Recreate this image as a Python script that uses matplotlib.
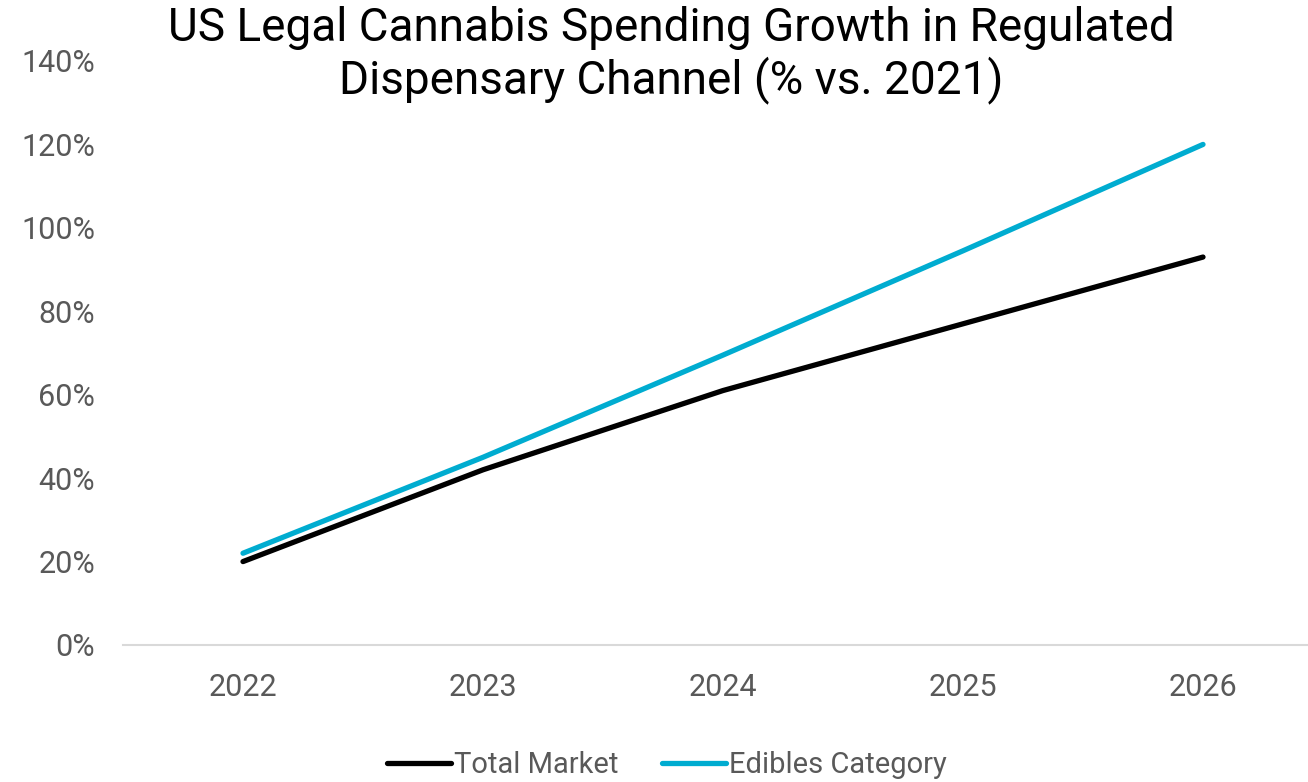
import matplotlib.pyplot as plt
from matplotlib.ticker import FuncFormatter

years = ["2022", "2023", "2024", "2025", "2026"]
total_market = [20, 42, 61, 77, 93]
edibles = [22, 45, 69.5, 94.5, 120]

plt.rcParams["font.family"] = ["Roboto", "DejaVu Sans"]

fig = plt.figure(figsize=(13.08, 7.82), dpi=100)
ax = fig.add_axes([123 / 1308, 1 - 645 / 782, 1200 / 1308, (645 - 61) / 782])

x = range(len(years))
line1, = ax.plot(x, total_market, color="black", lw=3.8, solid_capstyle="round")
line2, = ax.plot(x, edibles, color="#00ACD0", lw=3.8, solid_capstyle="round")

ax.set_xlim(-0.5, 4.5)
ax.set_ylim(0, 140)
ax.set_yticks(range(0, 141, 20))
ax.yaxis.set_major_formatter(FuncFormatter(lambda v, _: f"{v:.0f}%"))
ax.set_xticks(list(x))
ax.set_xticklabels(years)

for side in ("top", "right", "left"):
    ax.spines[side].set_visible(False)
ax.spines["bottom"].set_color("#D9D9D9")
ax.spines["bottom"].set_linewidth(1.5)
ax.tick_params(axis="both", length=0, labelsize=22, colors="#595959")
ax.tick_params(axis="x", pad=20)
ax.tick_params(axis="y", pad=20)

fig.text(0.513, 0.992, "US Legal Cannabis Spending Growth in Regulated\nDispensary Channel (% vs. 2021)",
         ha="center", va="top", fontsize=33, linespacing=1.15, color="black")

fig.legend(handles=(line1, line2), labels=("Total Market", "Edibles Category"),
           loc="lower center", bbox_to_anchor=(0.51, -0.03), ncol=2, frameon=False,
           fontsize=21, labelcolor="#595959", handlelength=2.2, handletextpad=0.1,
           columnspacing=1.5)

plt.savefig("out.png", dpi=100)
